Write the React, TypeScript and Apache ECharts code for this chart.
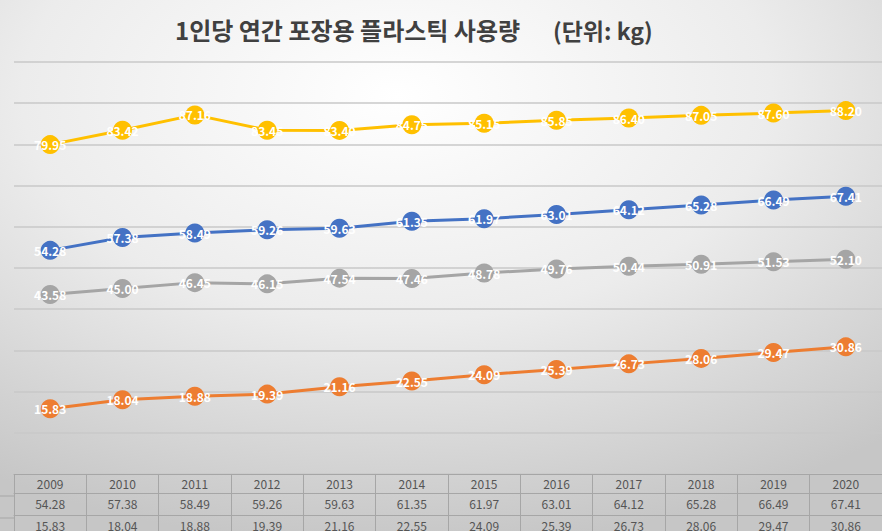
import React, { useEffect, useRef } from "react";
import * as echarts from "echarts";

const years = ["2009", "2010", "2011", "2012", "2013", "2014", "2015", "2016", "2017", "2018", "2019", "2020"];
const blueValues = [54.28, 57.38, 58.49, 59.26, 59.63, 61.35, 61.97, 63.01, 64.12, 65.28, 66.49, 67.41];
const orangeValues = [15.83, 18.04, 18.88, 19.39, 21.16, 22.55, 24.09, 25.39, 26.73, 28.06, 29.47, 30.86];
const grayValues = [43.58, 45.0, 46.45, 46.15, 47.54, 47.46, 48.78, 49.76, 50.44, 50.91, 51.53, 52.1];
const yellowValues = [79.95, 83.42, 87.16, 83.45, 83.4, 84.75, 85.15, 85.85, 86.4, 87.05, 87.6, 88.2];
const titleMain = "1인당 연간 포장용 플라스틱 사용량";
const titleUnit = "(단위: kg)";

const FONT = "Noto Sans CJK KR";

export default function App() {
  const ref = useRef<HTMLDivElement>(null);
  useEffect(() => {
    if (!ref.current) return;
    const chart = echarts.init(ref.current, undefined, { renderer: "svg" });
    const mkSeries = (name: string, data: number[], color: string) => ({
      type: "line",
      name,
      data,
      symbol: "circle",
      symbolSize: 19,
      lineStyle: { color, width: 3 },
      itemStyle: { color },
      label: {
        show: true,
        position: "inside",
        color: "#ffffff",
        fontFamily: FONT,
        fontSize: 12,
        fontWeight: "bold",
        formatter: (p: any) => Number(p.value).toFixed(2),
      },
    });
    const tableAxis = (data: string[], offset: number, margin: number, showTick: boolean) => ({
      type: "category",
      gridIndex: 0,
      position: "bottom",
      offset,
      data,
      boundaryGap: true,
      axisLine: { show: true, lineStyle: { color: "#a6a6a6", width: 1 } },
      axisTick: { show: showTick, length: 70, lineStyle: { color: "#a6a6a6", width: 1 } },
      axisLabel: {
        interval: 0,
        margin,
        color: "#555555",
        fontFamily: FONT,
        fontSize: 12,
      },
      splitLine: { show: false },
    });
    chart.setOption({
      animation: false,
      backgroundColor: new echarts.graphic.RadialGradient(0.45, 0.18, 0.85, [
        { offset: 0, color: "#ffffff" },
        { offset: 0.5, color: "#ececec" },
        { offset: 1, color: "#c6c6c6" },
      ]),
      title: [
        {
          text: titleMain,
          left: 175,
          top: 17,
          padding: 0,
          textStyle: { fontFamily: FONT, fontSize: 24, fontWeight: "bold", color: "#404040" },
        },
        {
          text: titleUnit,
          left: 553,
          top: 18,
          padding: 0,
          textStyle: { fontFamily: FONT, fontSize: 23, fontWeight: "bold", color: "#404040" },
        },
      ],
      grid: { left: 14, right: -1, top: 62, bottom: 54, containLabel: false },
      xAxis: [
        tableAxis(years, 0, 3, true),
        tableAxis(blueValues.map((v) => v.toFixed(2)), 19, 4, false),
        tableAxis(orangeValues.map((v) => v.toFixed(2)), 41, 4, false),
      ],
      yAxis: {
        type: "value",
        min: 0,
        max: 100,
        interval: 10,
        axisLabel: { show: false },
        axisLine: { show: false },
        axisTick: { show: false },
        splitLine: { show: true, lineStyle: { color: "#c8c8c8", width: 1.5 } },
      },
      graphic: [
        { type: "line", shape: { x1: 0, y1: 496, x2: 14, y2: 496 }, style: { stroke: "#a6a6a6", lineWidth: 1 } },
        { type: "line", shape: { x1: 0, y1: 518, x2: 14, y2: 518 }, style: { stroke: "#a6a6a6", lineWidth: 1 } },
      ],
      series: [
        mkSeries("한국", blueValues, "#4472C4"),
        mkSeries("중국", orangeValues, "#ED7D31"),
        mkSeries("미국", grayValues, "#A5A5A5"),
        mkSeries("벨기에", yellowValues, "#FFC000"),
      ],
    });
    return () => chart.dispose();
  }, []);
  return (
    <div
      ref={ref}
      style={{ position: "absolute", left: 0, top: 0, width: 882, height: 531 }}
    />
  );
}
